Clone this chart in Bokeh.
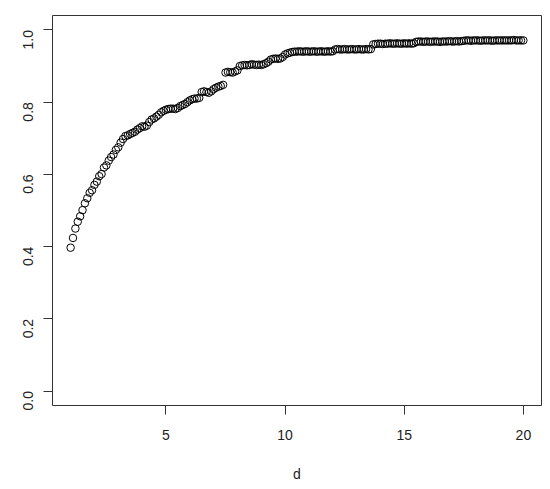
from bokeh.plotting import figure
from bokeh.models import FixedTicker, Range1d
from bokeh.embed import file_html
from bokeh.resources import INLINE
import numpy as np

# y values, d = 1.0, 1.1, ..., 20.0
y_seg_a = [0.397, 0.424, 0.450, 0.469, 0.484, 0.501, 0.520, 0.534, 0.549, 0.556,
           0.571, 0.580, 0.595, 0.601, 0.619, 0.625, 0.638]
y_seg_b = [0.648, 0.655, 0.668, 0.675, 0.688, 0.698, 0.706, 0.708, 0.712, 0.715,
           0.718, 0.724, 0.728, 0.733, 0.732, 0.735]
y_seg_c = [0.745, 0.752, 0.755, 0.760, 0.765, 0.772, 0.776, 0.779, 0.781, 0.782,
           0.782, 0.781, 0.784, 0.789, 0.792, 0.795, 0.800, 0.805, 0.808, 0.810,
           0.810, 0.812]
y_seg_d = [0.828, 0.830, 0.828, 0.826, 0.830, 0.836, 0.840, 0.843, 0.845, 0.848,
           0.882, 0.884, 0.883, 0.882, 0.885, 0.888]
y_seg_e = [0.900, 0.902, 0.903, 0.902, 0.903, 0.905, 0.904, 0.903, 0.904, 0.903,
           0.905, 0.908, 0.912, 0.918, 0.920, 0.921, 0.920, 0.921, 0.925, 0.932,
           0.935, 0.937]
y_seg_f = [0.939, 0.940, 0.940, 0.941, 0.940, 0.940, 0.941, 0.940, 0.940, 0.941,
           0.940, 0.940, 0.941, 0.940, 0.940, 0.941, 0.940, 0.941]
y_seg_g = [0.946, 0.947, 0.946, 0.946, 0.947, 0.946, 0.946, 0.947, 0.946, 0.946,
           0.947, 0.946, 0.946, 0.947, 0.946, 0.947]
y_seg_h = [0.960, 0.961, 0.962, 0.962, 0.961, 0.962, 0.962, 0.963, 0.962, 0.962,
           0.963, 0.962, 0.962, 0.963, 0.962, 0.963, 0.962, 0.963]
y_seg_i = [0.967, 0.968, 0.968, 0.967, 0.968, 0.968, 0.967, 0.968, 0.968, 0.968,
           0.967, 0.968, 0.968, 0.968, 0.969, 0.968, 0.968, 0.969, 0.968, 0.969]
y_seg_j = [0.970, 0.971, 0.971, 0.970, 0.971, 0.971, 0.971, 0.970, 0.971, 0.971,
           0.971, 0.971, 0.970, 0.971, 0.971, 0.971, 0.971, 0.971, 0.971, 0.971,
           0.971, 0.972, 0.971, 0.971, 0.971, 0.971]

y_vals = (y_seg_a + y_seg_b + y_seg_c + y_seg_d + y_seg_e +
          y_seg_f + y_seg_g + y_seg_h + y_seg_i + y_seg_j)
d_start = 1.0
d_step = 0.1
d_vals = [round(d_start + d_step * i, 1) for i in range(len(y_vals))]

x_ticks = [5, 10, 15, 20]
y_ticks = [0.0, 0.2, 0.4, 0.6, 0.8, 1.0]
y_tick_labels = {0.0: "0.0", 0.2: "0.2", 0.4: "0.4", 0.6: "0.6", 0.8: "0.8", 1.0: "1.0"}

FONT = "Liberation Sans"

p = figure(width=542, height=484, output_backend="svg", toolbar_location=None,
           x_range=Range1d(0.24, 20.76), y_range=Range1d(-0.04, 1.04),
           min_border_left=52, min_border_right=1, min_border_top=15,
           min_border_bottom=77)

p.scatter(d_vals, y_vals, marker="circle", size=7.5, fill_color=None,
          line_color="black", line_width=1)

p.xgrid.visible = False
p.ygrid.visible = False
p.outline_line_color = "#333333"
p.outline_line_width = 1
p.background_fill_color = "white"
p.border_fill_color = "white"

for ax in (p.xaxis[0], p.yaxis[0]):
    ax.axis_line_color = None
    ax.major_tick_line_color = "#333333"
    ax.major_tick_in = 0
    ax.major_tick_out = 9
    ax.minor_tick_line_color = None
    ax.major_label_text_font = FONT
    ax.major_label_text_font_size = "14px"
    ax.major_label_text_color = "#222222"

p.xaxis[0].ticker = FixedTicker(ticks=x_ticks)
p.xaxis[0].major_label_standoff = 15
p.xaxis[0].axis_label = "d"
p.xaxis[0].axis_label_text_font = FONT
p.xaxis[0].axis_label_text_font_size = "14px"
p.xaxis[0].axis_label_text_font_style = "normal"
p.xaxis[0].axis_label_text_color = "#222222"
p.xaxis[0].axis_label_standoff = 23

p.yaxis[0].ticker = FixedTicker(ticks=y_ticks)
p.yaxis[0].major_label_overrides = y_tick_labels
p.yaxis[0].major_label_orientation = np.pi / 2
p.yaxis[0].major_label_standoff = 15

open("out.html", "w").write(file_html(p, INLINE))
